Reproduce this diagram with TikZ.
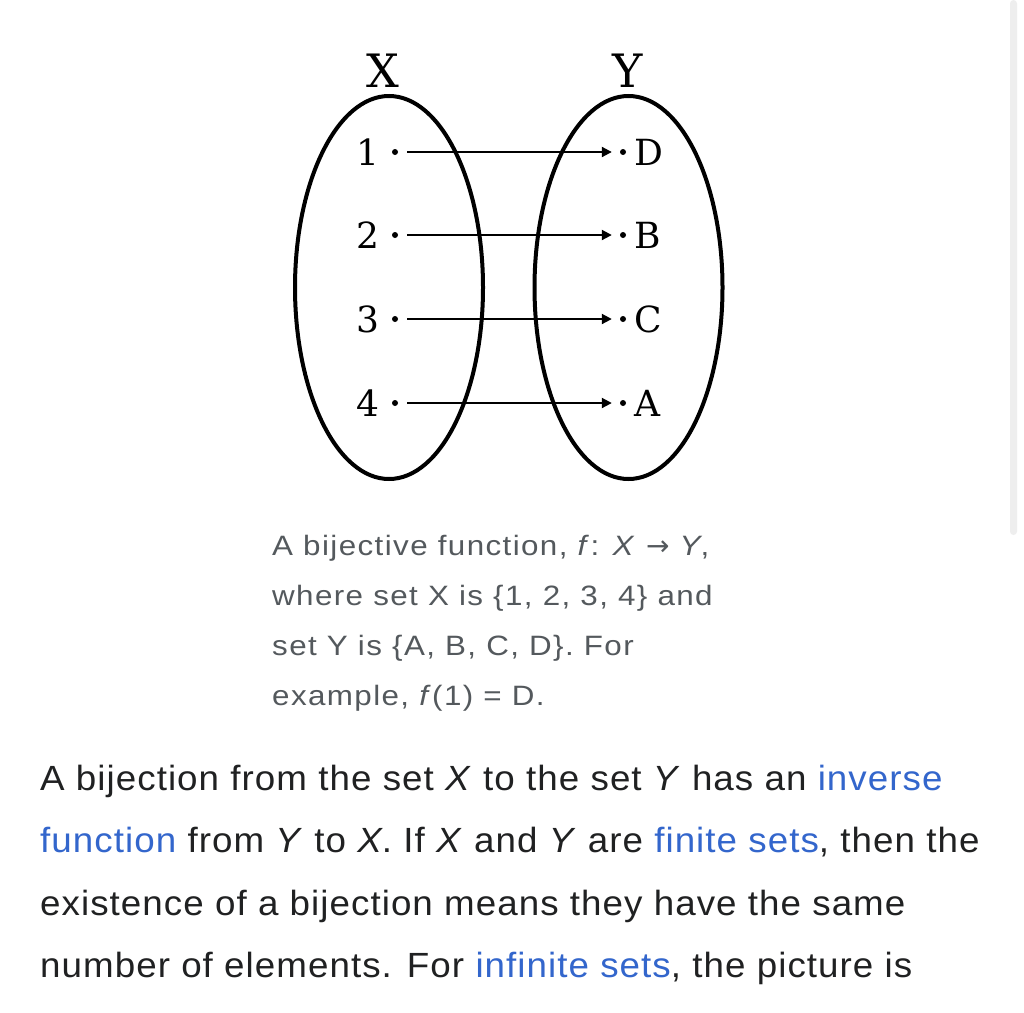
\documentclass[tikz,border=0pt]{standalone}
\usepackage{fontspec}
\setmainfont{Liberation Sans}
\newfontfamily\setserif{DejaVu Serif}
\newfontfamily\arrowfont{DejaVu Sans}
\newfontfamily\captionfont[FakeStretch=1.12, LetterSpace=5]{Liberation Sans}
\newfontfamily\bodyfont[FakeStretch=1.05, LetterSpace=3]{Liberation Sans}
\usepackage{tikz}
\usetikzlibrary{arrows.meta, positioning}
\definecolor{linkblue}{HTML}{3366CC}
\definecolor{captiongray}{HTML}{54595D}
\definecolor{bodyblack}{HTML}{202122}
\definecolor{scrollgray}{HTML}{EEEEEE}
\newcommand{\wlink}[1]{\textcolor{linkblue}{#1}}

\begin{document}
\begin{tikzpicture}[x=1pt, y=-1pt,
    elem/.style={circle, fill, inner sep=0pt, minimum size=6pt},
    every label/.style={font=\setserif\fontsize{36}{36}\selectfont, inner sep=0pt},
    setname/.style={font=\setserif\fontsize{46}{46}\selectfont, inner sep=0pt, anchor=base},
    mapsto/.style={-{Triangle[length=10pt, width=10pt]}, line width=2pt, shorten <=9pt, shorten >=8pt},
    caption/.style={font=\captionfont\fontsize{28}{28}\selectfont, text=captiongray, inner sep=0pt, anchor=base west},
    body/.style={font=\bodyfont\fontsize{35}{35}\selectfont, text=bodyblack, inner sep=0pt, anchor=base west}]
    \fill[white] (0,0) rectangle (1024,1012);
    \useasboundingbox (0,0) rectangle (1024,1012);
    \fill[scrollgray, rounded corners=3.5pt] (1010,0) rectangle (1017,535);

    \begin{scope}
    \node[setname] (X) at (383,87) {X};
    \node[setname] (Y) at (628,87) {Y};
    \draw[line width=4pt] (389,287.5) ellipse [x radius=94, y radius=191.5];
    \draw[line width=4pt] (628.5,287.5) ellipse [x radius=94, y radius=191.5];

    \node[elem, label={[label distance=12pt]left:1}] (x1) at (395,152) {};
    \node[elem, label={[label distance=12pt]left:2}] (x2) at (395,235) {};
    \node[elem, label={[label distance=12pt]left:3}] (x3) at (395,319) {};
    \node[elem, label={[label distance=12pt]left:4}] (x4) at (395,403) {};
    \node[elem, label={[label distance=8pt]right:D}] (yD) at (623,152) {};
    \node[elem, label={[label distance=8pt]right:B}] (yB) at (623,235) {};
    \node[elem, label={[label distance=8pt]right:C}] (yC) at (623,319) {};
    \node[elem, label={[label distance=8pt]right:A}] (yA) at (623,403) {};

    \draw[mapsto] (x1) -- (yD);
    \draw[mapsto] (x2) -- (yB);
    \draw[mapsto] (x3) -- (yC);
    \draw[mapsto] (x4) -- (yA);
    \end{scope}

    % caption
    \node[caption] (cap1) at (272,555) {A bijective function, \textit{f}: \textit{X} {\arrowfont →} \textit{Y},};
    \node[caption] (cap2) at (272,605) {where set X is \{1, 2, 3, 4\} and};
    \node[caption] (cap3) at (272,655) {set Y is \{A, B, C, D\}. For};
    \node[caption] (cap4) at (272,705) {example, \textit{f}(1) = D.};

    % article text
    \node[body] (txt1) at (40,790) {A bijection from the set \textit{X} to the set \textit{Y} has an \wlink{inverse}};
    \node[body] (txt2) at (40,852) {\wlink{function} from \textit{Y} to \textit{X}. If \textit{X} and \textit{Y} are \wlink{finite sets}, then the};
    \node[body] (txt3) at (40,915) {existence of a bijection means they have the same};
    \node[body] (txt4) at (40,977) {number of elements. For \wlink{infinite sets}, the picture is};
\end{tikzpicture}
\end{document}
